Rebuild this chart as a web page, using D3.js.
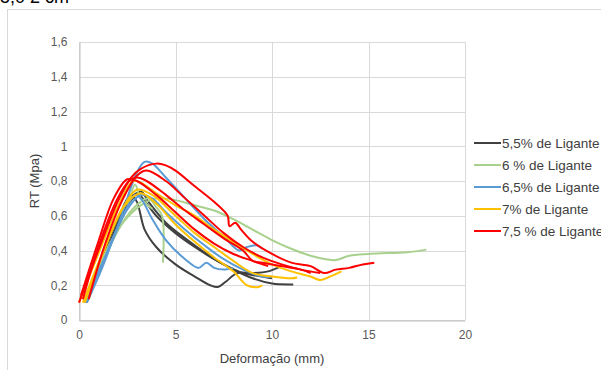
<!DOCTYPE html>
<html>
<head>
<meta charset="utf-8">
<script src="https://cdn.jsdelivr.net/npm/d3@7"></script>
<style>
  body { margin: 0; background: #fff; }
  svg { display: block; }
  text { font-family: "Liberation Sans", Arial, sans-serif; }
</style>
</head>
<body>
<div id="chart"></div>
<script>
// Series names and colours
const seriesNames = ['5,5% de Ligante', '6 % de Ligante', '6,5% de Ligante', '7% de Ligante', '7,5 % de Ligante'];
const seriesColors = ['#404040', '#a9d18e', '#5b9bd5', '#ffc000', '#ff0000'];

// Tick labels
const xTicks = [0, 5, 10, 15, 20];
const yTicks = [0, 0.2, 0.4, 0.6, 0.8, 1, 1.2, 1.4, 1.6];

// Curves, [deformation (mm), RT (MPa)]
const black = [
  [[0.3,0.1],[1,0.3],[2,0.58],[2.7,0.72],[3,0.68],[3.4,0.52],[4,0.42],[5,0.32],[6,0.25],[6.8,0.2],[7.2,0.19],[7.6,0.22],[8.2,0.27],[9,0.27],[9.8,0.28],[10.5,0.31]],
  [[0.4,0.1],[1.2,0.32],[2.2,0.6],[3,0.73],[3.3,0.7],[4,0.6],[5,0.5],[6,0.42],[7,0.35],[8,0.29],[9,0.24],[10,0.21],[11.1,0.205]],
  [[0.4,0.12],[1.3,0.35],[2.3,0.62],[3.2,0.74],[3.6,0.68],[4.5,0.56],[5.5,0.47],[6.5,0.39],[7.5,0.32],[8.5,0.27],[9.5,0.25],[10,0.24]]
];
const green = [
  [[0.3,0.1],[1.2,0.35],[2.2,0.55],[3.2,0.66],[4,0.7],[5,0.69],[6,0.66],[7,0.63],[8,0.58],[9,0.52],[10,0.46],[11,0.41],[12,0.37],[12.8,0.35],[13.3,0.345],[14,0.37],[15,0.38],[16,0.385],[17,0.39],[18,0.405]],
  [[0.5,0.12],[1.5,0.4],[2.5,0.6],[3.2,0.68],[3.6,0.7],[4,0.65],[4.3,0.6],[4.35,0.33]],
  [[0.5,0.12],[1.5,0.4],[2.5,0.65],[2.9,0.78],[3.2,0.7],[3.8,0.64]]
];
const blue = [
  [[0.4,0.1],[1.2,0.3],[2.2,0.6],[3,0.85],[3.4,0.91],[3.8,0.9],[4.5,0.82],[5.5,0.7],[6.5,0.58],[7.5,0.48],[8.3,0.4],[8.7,0.42],[9.2,0.43],[9.5,0.41]],
  [[0.3,0.1],[1.2,0.32],[2.3,0.6],[2.9,0.72],[3.2,0.7],[3.8,0.58],[4.5,0.46],[5.5,0.35],[6.2,0.3],[6.6,0.33],[7,0.3],[7.5,0.29],[8,0.3]],
  [[0.4,0.12],[1.3,0.35],[2.3,0.6],[3.2,0.72],[3.8,0.7],[4.5,0.62],[5.5,0.52],[6.5,0.43],[7.5,0.35],[8.5,0.29],[9.5,0.25],[10,0.25]]
];
const yellow = [
  [[0,0.1],[1,0.38],[2,0.65],[2.8,0.8],[3.2,0.79],[4,0.73],[5,0.66],[6,0.6],[7,0.52],[8,0.45],[9,0.38],[10,0.32],[11,0.28],[12,0.25],[12.5,0.23],[13,0.25],[13.6,0.28]],
  [[0.2,0.1],[1.2,0.38],[2.3,0.65],[3,0.75],[3.8,0.72],[5,0.6],[6,0.5],[7,0.42],[8,0.34],[9,0.27],[10,0.25],[11,0.24],[11.3,0.245]],
  [[0.3,0.1],[1.3,0.4],[2.3,0.65],[3.2,0.73],[4,0.67],[5,0.55],[6,0.45],[7,0.36],[8,0.28],[8.7,0.2],[9.3,0.19],[9.5,0.2]]
];
const red = [
  [[0,0.1],[1,0.4],[2,0.68],[2.7,0.82],[3.2,0.87],[4,0.9],[4.5,0.89],[5,0.86],[6,0.77],[7,0.68],[7.7,0.6],[7.8,0.54],[8.1,0.56],[8.4,0.52],[9,0.45],[10,0.38],[11,0.33],[12,0.31],[12.7,0.27],[13.3,0.29],[14,0.3],[14.7,0.32],[15.3,0.33]],
  [[0.2,0.12],[1,0.42],[2,0.7],[2.6,0.8],[3,0.82],[3.5,0.8],[4.5,0.72],[5.5,0.63],[6.5,0.55],[7.5,0.47],[8.5,0.4],[9,0.34],[9.5,0.33],[10.5,0.31],[11.5,0.29],[12,0.27]],
  [[0.5,0.12],[1.3,0.42],[2.2,0.68],[3,0.83],[3.5,0.86],[4.5,0.8],[5.5,0.7],[6.5,0.6],[7.5,0.5],[8.5,0.42],[9.5,0.36],[10.5,0.32],[11.5,0.29],[12.5,0.27]],
  [[0.1,0.14],[1,0.45],[1.8,0.7],[2.5,0.81],[3,0.8],[4,0.72],[5,0.62],[6,0.52],[7,0.44],[8,0.38],[9,0.34],[9.8,0.31]]
];
const groups = [black, green, blue, yellow, red];

const width = 601, height = 370;
const margin = { top: 42, right: 136, bottom: 50, left: 79 };

const svg = d3.select('#chart').append('svg')
  .attr('width', width)
  .attr('height', height);

// caption cut off at the very top, as in the source scan
svg.append('text')
  .attr('x', 0).attr('y', 3)
  .attr('font-family', '"Liberation Serif", serif')
  .attr('font-size', '18px')
  .attr('fill', '#000')
  .text('5,0 2 cm');

// chart frame
svg.append('rect')
  .attr('x', 7.5).attr('y', 9.5)
  .attr('width', 620).attr('height', 400)
  .attr('fill', 'none')
  .attr('stroke', '#d9d9d9');

const x = d3.scaleLinear().domain([0, 20]).range([margin.left, width - margin.right]);
const y = d3.scaleLinear().domain([0, 1.6]).range([height - margin.bottom, margin.top]);

const g = svg.append('g');

// Grid
g.selectAll('.hgrid')
  .data(yTicks)
  .join('line')
  .attr('x1', x(0)).attr('x2', x(20))
  .attr('y1', d => Math.round(y(d)) + 0.5)
  .attr('y2', d => Math.round(y(d)) + 0.5)
  .attr('stroke', '#d9d9d9');

g.selectAll('.vgrid')
  .data(xTicks)
  .join('line')
  .attr('y1', y(0)).attr('y2', y(1.6))
  .attr('x1', d => Math.round(x(d)) + 0.5)
  .attr('x2', d => Math.round(x(d)) + 0.5)
  .attr('stroke', '#d9d9d9');

// Axes
const fmt = d => String(d).replace('.', ',');
const xAxis = g.append('g')
  .attr('transform', `translate(0,${Math.round(y(0)) + 0.5})`)
  .call(d3.axisBottom(x).tickValues(xTicks).tickSize(0).tickPadding(10).tickFormat(fmt));
const yAxis = g.append('g')
  .attr('transform', `translate(${Math.round(x(0)) + 0.5},0)`)
  .call(d3.axisLeft(y).tickValues(yTicks).tickSize(0).tickPadding(12).tickFormat(fmt));

[xAxis, yAxis].forEach(a => {
  a.select('.domain').attr('stroke', '#bfbfbf');
  a.selectAll('text')
    .attr('fill', '#595959')
    .attr('font-size', '12px')
    .attr('font-family', '"Liberation Sans", Arial, sans-serif');
});

// Axis titles
svg.append('text')
  .attr('x', (x(0) + x(20)) / 2)
  .attr('y', 363)
  .attr('text-anchor', 'middle')
  .attr('fill', '#404040')
  .attr('font-size', '13px')
  .text('Deformação (mm)');

svg.append('text')
  .attr('transform', `translate(39,${y(0.8)}) rotate(-90)`)
  .attr('text-anchor', 'middle')
  .attr('fill', '#404040')
  .attr('font-size', '13px')
  .text('RT (Mpa)');

// Curves
const line = d3.line()
  .x(d => x(d[0]))
  .y(d => y(d[1]))
  .curve(d3.curveCatmullRom.alpha(0.5));

groups.forEach((curves, i) => {
  g.append('g')
    .selectAll('path')
    .data(curves)
    .join('path')
    .attr('d', line)
    .attr('fill', 'none')
    .attr('stroke', seriesColors[i])
    .attr('stroke-width', 2)
    .attr('stroke-linejoin', 'round');
});

// Legend
const legend = svg.append('g')
  .attr('transform', 'translate(474,143)');

const item = legend.selectAll('g')
  .data(seriesNames)
  .join('g')
  .attr('transform', (d, i) => `translate(0,${i * 22})`);

item.append('line')
  .attr('x1', 0).attr('x2', 27)
  .attr('stroke', (d, i) => seriesColors[i])
  .attr('stroke-width', 2);

item.append('text')
  .attr('x', 28)
  .attr('dy', '0.35em')
  .attr('fill', '#404040')
  .attr('font-size', '13.5px')
  .text(d => d);
</script>
</body>
</html>
